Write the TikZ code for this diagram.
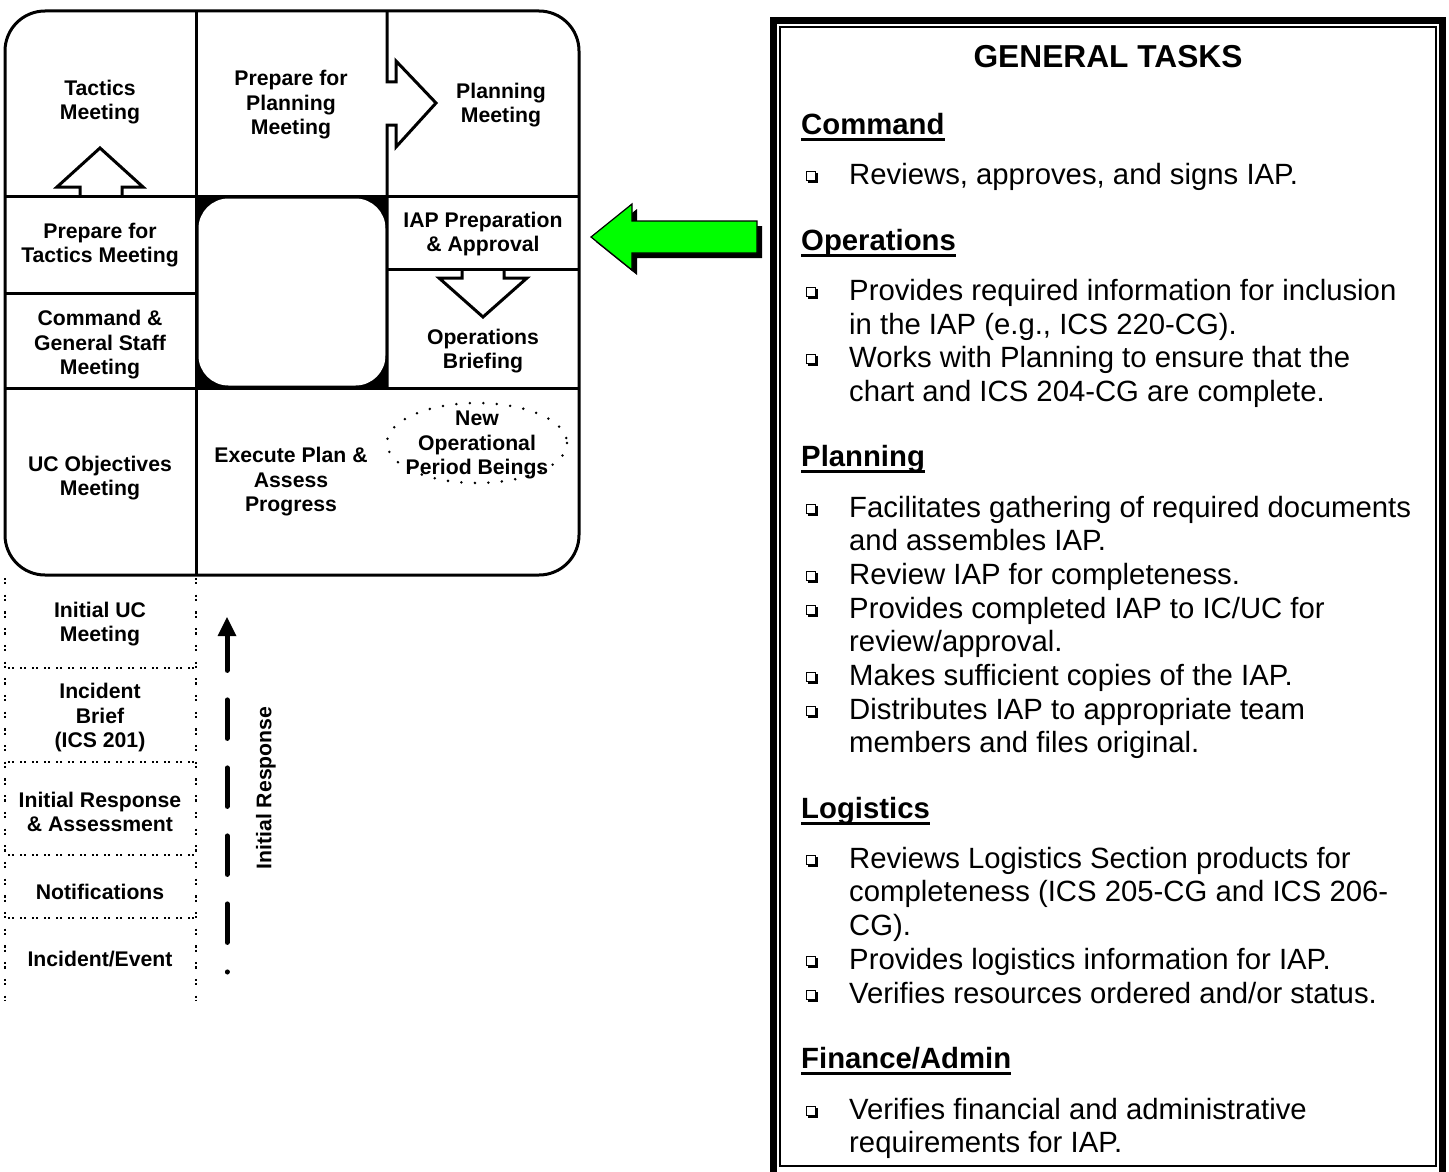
\documentclass[tikz,border=0pt]{standalone}
\usepackage{fontspec}
\setmainfont{Liberation Sans}
\begin{document}
\begin{tikzpicture}[x=1pt,y=-1pt,
  lbl/.style={font=\fontsize{21.2}{24.5}\selectfont\bfseries,align=center,inner sep=0pt},
  chartline/.style={line width=3pt,line join=miter},
  body/.style={font=\fontsize{29.3}{33.5}\selectfont,anchor=base west,inner sep=0pt},
  hdg/.style={font=\fontsize{29.3}{33.5}\selectfont\bfseries,anchor=base west,inner sep=0pt},
  bul/.style={draw,line width=1pt,minimum size=9pt,inner sep=0pt,fill=white},
  colsep/.style={line width=2.8pt,dash pattern=on 2.2pt off 2pt on 2.2pt off 5.6pt},
  colside/.style={line width=2.8pt,dash pattern=on 2.2pt off 2pt on 2.2pt off 10.3pt},
]
\useasboundingbox (0,0) rectangle (1449,1172);

% ---------- cycle chart ----------
\fill[black] (196,196) rectangle (387,388);
\fill[white,rounded corners=30pt] (198.5,198.5) rectangle (385.5,385.5);

\draw[chartline] (196,11) -- (196,575);
\draw[chartline] (387,11) -- (387,82) -- (396,82) -- (396,61) -- (436,103) -- (396,147) -- (396,125) -- (387,125) -- (387,388);
\draw[chartline] (5,196) -- (579,196);
\draw[chartline] (5,293) -- (196,293);
\draw[chartline] (387,269) -- (579,269);
\draw[chartline] (5,388) -- (579,388);
\draw[chartline] (80,196) -- (80,187) -- (57,187) -- (100,148) -- (143,187) -- (122,187) -- (122,196);
\draw[chartline] (462,269) -- (462,278) -- (439,278) -- (483,317) -- (527,278) -- (504,278) -- (504,269);
\draw[chartline,rounded corners=40pt] (5,11) rectangle (579,575);

\node[lbl] (tac) at (100,102) {Tactics\\Meeting};
\node[lbl] (ppm) at (291,105) {Prepare for\\Planning\\Meeting};
\node[lbl] (pm)  at (501,105) {Planning\\Meeting};
\node[lbl] (ptm) at (100,245) {Prepare for\\Tactics Meeting};
\node[lbl] (iap) at (483,234) {IAP Preparation\\\& Approval};
\node[lbl] (cgs) at (100,345) {Command \&\\General Staff\\Meeting};
\node[lbl] (ob)  at (483,351) {Operations\\Briefing};
\node[lbl] (uco) at (100,478) {UC Objectives\\Meeting};
\node[lbl] (epa) at (291,482) {Execute Plan \&\\Assess\\Progress};
\draw[line width=2.8pt,line cap=round,dash pattern=on 0pt off 13.5pt] (477,443) ellipse [x radius=90, y radius=40];
\node[lbl] (nop) at (477,445) {New\\Operational\\Period Beings};

% ---------- initial response column ----------
\draw[colside] (5,578) -- (5,1000);
\draw[colside] (196,578) -- (196,1000);
\draw[colsep] (8,668) -- (196,668);
\draw[colsep] (8,762) -- (196,762);
\draw[colsep] (8,855) -- (196,855);
\draw[colsep] (8,918) -- (196,918);

\node[lbl] (iuc) at (100,624) {Initial UC\\Meeting};
\node[lbl] (ib)  at (100,718) {Incident\\Brief\\(ICS 201)};
\node[lbl] (ira) at (100,812) {Initial Response\\\& Assessment};
\node[lbl] (not) at (100,892) {Notifications};
\node[lbl] (ie)  at (100,959) {Incident/Event};

\coordinate (irs) at (227,972);
\coordinate (ire) at (227,634);
\coordinate (irt) at (227,617);
\draw[line width=5pt,line cap=round,dash pattern=on 38.5pt off 29.5pt,dash phase=38.4pt] (irs) -- (ire);
\fill[line join=round] (irt) -- (217.5,636) -- (236.5,636) -- cycle;
\node[lbl,rotate=90] (irl) at (266,788) {Initial Response};

% ---------- green arrow ----------
\begin{scope}[shift={(5,5)}]
\fill[black] (591,237) -- (632,204) -- (632,221) -- (757,221) -- (757,253) -- (632,253) -- (632,270) -- cycle;
\end{scope}
\draw[line width=1.2pt,fill=green,line join=miter] (591,237) -- (632,204) -- (632,221) -- (757,221) -- (757,253) -- (632,253) -- (632,270) -- cycle;
\coordinate (ga) at (591,237);

% ---------- general tasks box ----------
\draw[line width=7pt] (773.5,20.5) rectangle (1442.5,1180);
\draw[line width=2pt] (780,27) rectangle (1436,1166);

\node[font=\fontsize{31.7}{36}\selectfont\bfseries,anchor=base,inner sep=0pt] (title) at (1108,67) {GENERAL TASKS};

\node[hdg] (h1) at (801,134.5) {Command};
\node[hdg] (h2) at (801,250.5) {Operations};
\node[hdg] (h3) at (801,466.5) {Planning};
\node[hdg] (h4) at (801,818.5) {Logistics};
\node[hdg] (h5) at (801,1068.5) {Finance/Admin};
\foreach \h in {h1,h2,h3,h4,h5}
  \draw[line width=3pt] ([yshift=-4.5pt]\h.base west) -- ([yshift=-4.5pt]\h.base east);

\node[body] (l1)  at (849,184) {Reviews, approves, and signs IAP.};
\node[body] (l2)  at (849,300) {Provides required information for inclusion};
\node[body] (l3)  at (849,334) {in the IAP (e.g., ICS 220-CG).};
\node[body] (l4)  at (849,367) {Works with Planning to ensure that the};
\node[body] (l5)  at (849,401) {chart and ICS 204-CG are complete.};
\node[body] (l6)  at (849,517) {Facilitates gathering of required documents};
\node[body] (l7)  at (849,550) {and assembles IAP.};
\node[body] (l8)  at (849,584) {Review IAP for completeness.};
\node[body] (l9)  at (849,618) {Provides completed IAP to IC/UC for};
\node[body] (l10) at (849,651) {review/approval.};
\node[body] (l11) at (849,685) {Makes sufficient copies of the IAP.};
\node[body] (l12) at (849,719) {Distributes IAP to appropriate team};
\node[body] (l13) at (849,752) {members and files original.};
\node[body] (l14) at (849,868) {Reviews Logistics Section products for};
\node[body] (l15) at (849,901) {completeness (ICS 205-CG and ICS 206-};
\node[body] (l16) at (849,935) {CG).};
\node[body] (l17) at (849,969) {Provides logistics information for IAP.};
\node[body] (l18) at (849,1003) {Verifies resources ordered and/or status.};
\node[body] (l19) at (849,1119) {Verifies financial and administrative};
\node[body] (l20) at (849,1152) {requirements for IAP.};

\foreach \n/\yy in {1/176,2/292,3/359,4/509,5/576,6/610,7/677,8/711,9/860,10/961,11/995,12/1111}{
  \fill (808,\yy-3) rectangle (817.5,\yy+6.5);
  \node[bul] (bu\n) at (811,\yy) {};
}
\end{tikzpicture}
\end{document}
